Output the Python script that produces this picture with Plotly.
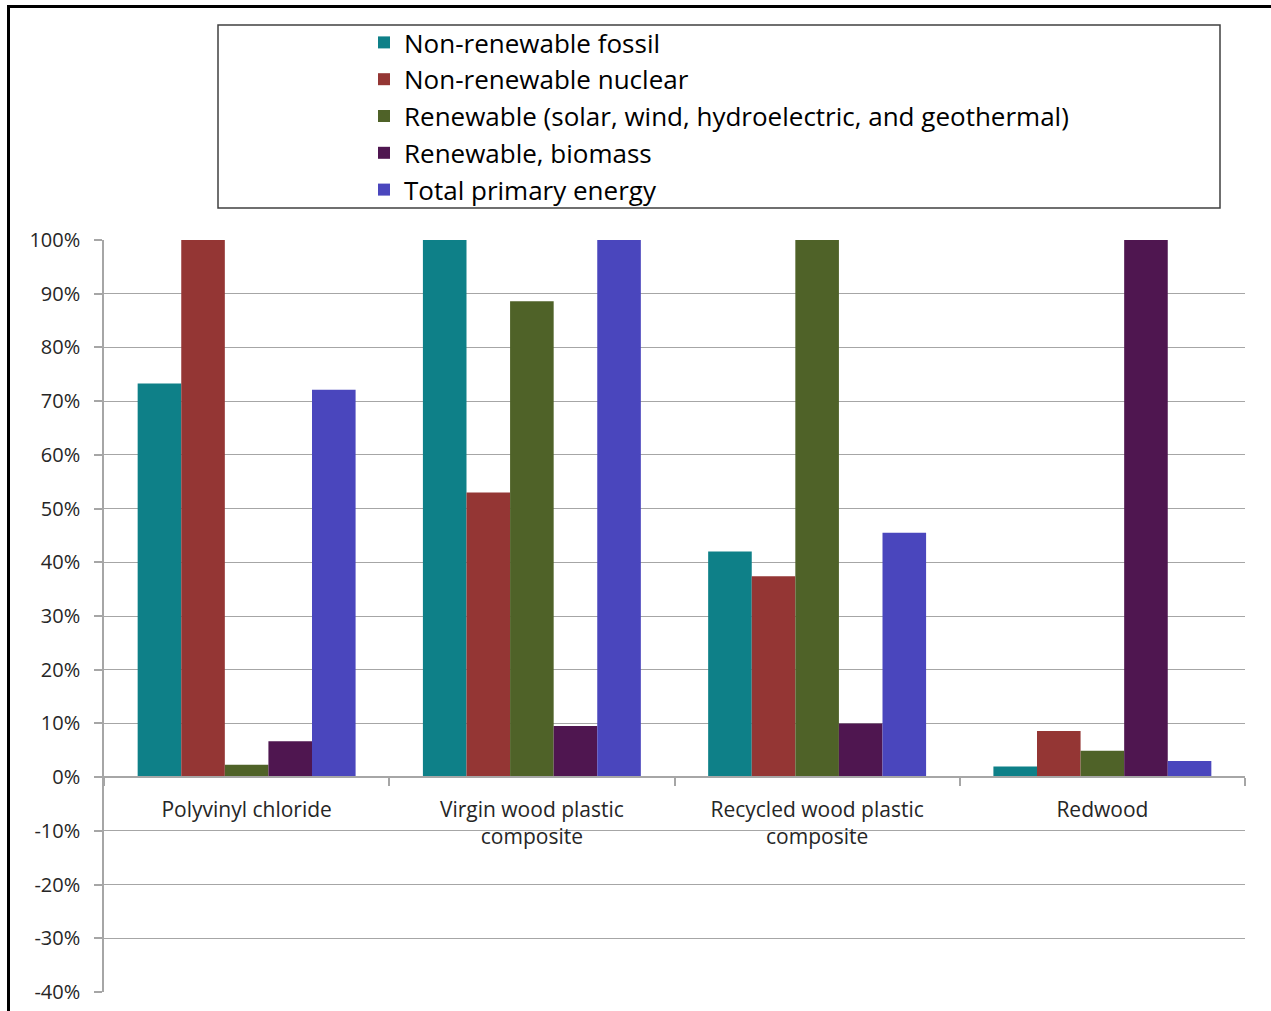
import plotly.graph_objects as go

# Share of each energy source, by decking material
categories = [
    "Polyvinyl chloride",
    "Virgin wood plastic<br>composite",
    "Recycled wood plastic<br>composite",
    "Redwood",
]
series_names = [
    "Non-renewable fossil",
    "Non-renewable nuclear",
    "Renewable (solar, wind, hydroelectric, and geothermal)",
    "Renewable, biomass",
    "Total primary energy",
]
fossil = [0.733, 1.00, 0.420, 0.020]
nuclear = [1.00, 0.530, 0.374, 0.086]
renewable = [0.023, 0.886, 1.00, 0.049]
biomass = [0.067, 0.095, 0.100, 1.00]
total = [0.721, 1.00, 0.455, 0.030]
series_values = [fossil, nuclear, renewable, biomass, total]
colors = ["#0e8088", "#943634", "#4f6228", "#4f1650", "#4a46bd"]

y_tick_values = [i / 10 for i in range(-4, 11)]
y_tick_labels = ["-40%", "-30%", "-20%", "-10%", "0%", "10%", "20%", "30%",
                 "40%", "50%", "60%", "70%", "80%", "90%", "100%"]

W, H = 1271, 1011
L, R, T, B = 104, 26, 240, 19
PW, PH = W - L - R, H - T - B


def px_x(x):
    return (x - L) / PW


def px_y(y):
    return (H - B - y) / PH


fig = go.Figure()
for i, (name, vals, col) in enumerate(zip(series_names, series_values, colors)):
    fig.add_trace(go.Bar(
        x=categories, y=vals, name=name,
        marker=dict(color=col, line=dict(width=0)),
        legendgroup=f"g{i}",
    ))

font_family = "'Open Sans', sans-serif"

fig.update_layout(
    width=W, height=H,
    margin=dict(l=L, r=R, t=T, b=B, autoexpand=False),
    paper_bgcolor="white", plot_bgcolor="white",
    barmode="group", bargap=0.236, bargroupgap=0,
    font=dict(family=font_family, color="#262626"),
    showlegend=True,
    legend=dict(
        xref="container", yref="container",
        x=364 / W, y=1 - 19 / H, xanchor="left", yanchor="top",
        orientation="v", bgcolor="rgba(0,0,0,0)",
        font=dict(size=26, color="#000000", family=font_family),
        tracegroupgap=0, itemwidth=30,
    ),
    xaxis=dict(
        anchor="free", position=0.4 / 1.4,
        showline=True, linecolor="#a6a6a6", linewidth=1.5,
        ticks="outside", ticklen=8, tickcolor="#a6a6a6", tickwidth=1.5,
        tickson="boundaries", showgrid=False,
        tickfont=dict(size=21, color="#262626"),
        ticklabelstandoff=14,
    ),
    yaxis=dict(
        range=[-0.4, 1.0], tickvals=y_tick_values, ticktext=y_tick_labels,
        showline=True, linecolor="#a6a6a6", linewidth=1.5,
        ticks="outside", ticklen=8, tickcolor="#a6a6a6", tickwidth=1.5,
        showgrid=True, gridcolor="#a6a6a6", gridwidth=1.2,
        zeroline=False, tickfont=dict(size=20, color="#262626"),
        ticklabelstandoff=10,
    ),
)

# Outer frame of the chart area
fig.add_shape(type="rect", xref="paper", yref="paper",
              x0=px_x(8.5), x1=px_x(1300), y0=px_y(1040), y1=px_y(6.5),
              line=dict(color="#000000", width=3), layer="below")
# Frame around the legend
fig.add_shape(type="rect", xref="paper", yref="paper",
              x0=px_x(218), x1=px_x(1220), y0=px_y(208), y1=px_y(25),
              line=dict(color="#404040", width=1.5))

fig.write_html("out.html")
